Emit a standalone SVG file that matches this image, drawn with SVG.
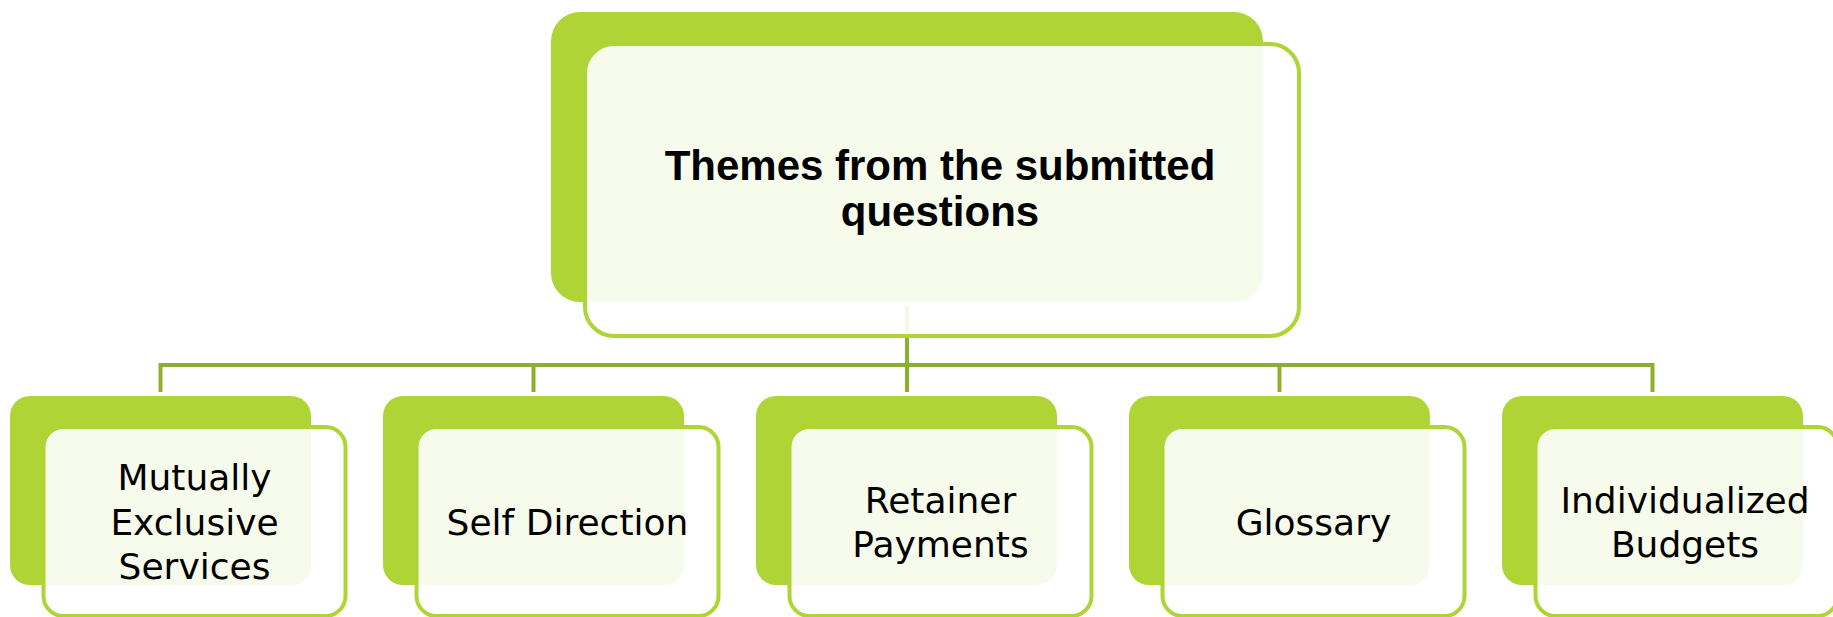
<svg xmlns="http://www.w3.org/2000/svg" width="1833" height="617" viewBox="0 0 1833 617">
<style>
.bg{fill:#AED535;}
.fg{fill:#FFFFFF;fill-opacity:0.9;stroke:#AED535;stroke-width:4;}
.conn{fill:none;stroke:#8DAF2E;stroke-width:4;}
.t{font-family:"DejaVu Sans",sans-serif;font-size:36px;fill:#000;text-anchor:middle;}
.tb{font-family:"Liberation Sans",Arial,sans-serif;font-size:42px;font-weight:bold;fill:#000;text-anchor:middle;}
</style>
<rect width="1833" height="617" fill="#FFFFFF"/>
<g id="connectors">
<path class="conn" d="M907 306 V365 M160.5 392 V365 H1652.5 V392 M533.5 365 V392 M907 365 V392 M1279.5 365 V392"/>
</g>
<g id="node-root">
<rect class="bg" x="551" y="12" width="712" height="290" rx="29"/>
<rect class="fg" x="585" y="44" width="714" height="292" rx="29"/>
<text class="tb" x="940" y="180">Themes from the submitted</text>
<text class="tb" x="940" y="226">questions</text>
</g>
<g id="node-mutually">
<rect class="bg" x="10" y="396" width="301" height="189" rx="20"/>
<rect class="fg" x="43.5" y="427" width="302" height="189" rx="20"/>
<text class="t" x="194.5" y="490">Mutually</text>
<text class="t" x="194.5" y="535">Exclusive</text>
<text class="t" x="194.5" y="579">Services</text>
</g>
<g id="node-self">
<rect class="bg" x="383" y="396" width="301" height="189" rx="20"/>
<rect class="fg" x="416.5" y="427" width="302" height="189" rx="20"/>
<text class="t" x="567.5" y="535">Self Direction</text>
</g>
<g id="node-retainer">
<rect class="bg" x="756" y="396" width="301" height="189" rx="20"/>
<rect class="fg" x="789.5" y="427" width="302" height="189" rx="20"/>
<text class="t" x="940.5" y="513">Retainer</text>
<text class="t" x="940.5" y="557">Payments</text>
</g>
<g id="node-glossary">
<rect class="bg" x="1129" y="396" width="301" height="189" rx="20"/>
<rect class="fg" x="1162.5" y="427" width="302" height="189" rx="20"/>
<text class="t" x="1313.5" y="535">Glossary</text>
</g>
<g id="node-budgets">
<rect class="bg" x="1502" y="396" width="301" height="189" rx="20"/>
<rect class="fg" x="1535.5" y="427" width="302" height="189" rx="20"/>
<text class="t" x="1685" y="513">Individualized</text>
<text class="t" x="1685" y="557">Budgets</text>
</g>
</svg>
